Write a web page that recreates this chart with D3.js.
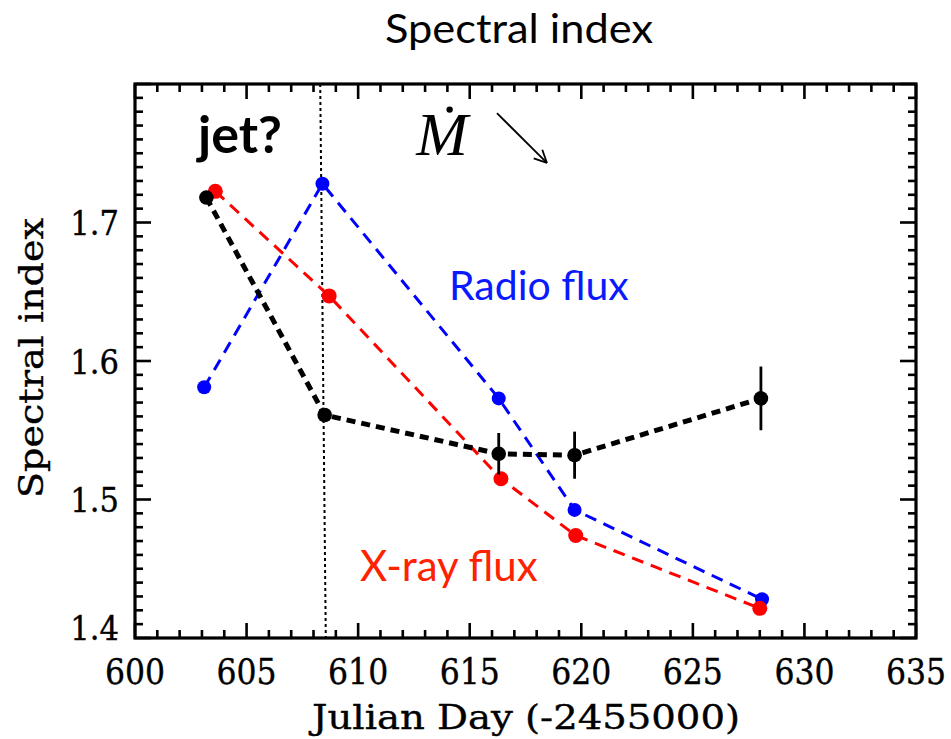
<!DOCTYPE html>
<html>
<head>
<meta charset="utf-8">
<script src="https://cdn.jsdelivr.net/npm/d3@7"></script>
<style>
  body { margin: 0; background: #fff; }
  .axis-text { font-family: "DejaVu Serif Condensed", "DejaVu Serif", serif; font-stretch: condensed; stroke: #000; stroke-width: 0.35px; }
  .sans { font-family: Lato, "Open Sans", sans-serif; }
</style>
</head>
<body>
<svg id="chart" width="951" height="739"></svg>
<script>
// Axis ranges and labelled ticks
const xDomain = [600, 635];
const yDomain = [1.4, 1.8];
const xTickLabels = [600, 605, 610, 615, 620, 625, 630, 635];
const yTickLabels = [1.4, 1.5, 1.6, 1.7];

// Spectral index (black, with errors)
const spectralDay   = [603.2, 608.5, 616.3, 619.7, 628.05];
const spectralIndex = [1.718, 1.561, 1.533, 1.532, 1.573];
const spectralError = [0.004, 0.004, 0.015, 0.017, 0.023];

// Radio flux (blue)
const radioDay   = [603.1, 608.4, 616.3, 619.7, 628.1];
const radioIndex = [1.581, 1.728, 1.573, 1.4925, 1.428];

// X-ray flux (red)
const xrayDay   = [603.6, 608.7, 616.4, 619.75, 628.0];
const xrayIndex = [1.7225, 1.647, 1.515, 1.474, 1.4214];

// Jet marker line: day at top and at bottom of the frame
const jetLineDay = [608.3, 608.55];

const svg = d3.select("#chart");
const plotLeft = 135, plotRight = 916, plotTop = 84, plotBottom = 638;

const x = d3.scaleLinear().domain(xDomain).range([plotLeft, plotRight]);
const y = d3.scaleLinear().domain(yDomain).range([plotBottom, plotTop]);

const zip = (xs, ys) => xs.map((d, i) => [d, ys[i]]);
const line = d3.line().x(d => x(d[0])).y(d => y(d[1]));

// Jet vertical dotted line
svg.append("line")
  .attr("x1", x(jetLineDay[0])).attr("y1", y(yDomain[1]))
  .attr("x2", x(jetLineDay[1])).attr("y2", y(yDomain[0]))
  .attr("stroke", "#000").attr("stroke-width", 2)
  .attr("stroke-dasharray", "3,3");

// Radio series
const radio = zip(radioDay, radioIndex);
svg.append("path").datum(radio).attr("d", line)
  .attr("fill", "none").attr("stroke", "#0000ff")
  .attr("stroke-width", 3).attr("stroke-dasharray", "12,8");
svg.selectAll(".radio").data(radio).join("circle")
  .attr("cx", d => x(d[0])).attr("cy", d => y(d[1])).attr("r", 7)
  .attr("fill", "#0000ff");

// X-ray series
const xray = zip(xrayDay, xrayIndex);
svg.append("path").datum(xray).attr("d", line)
  .attr("fill", "none").attr("stroke", "#ff0000")
  .attr("stroke-width", 3).attr("stroke-dasharray", "12,8");
svg.selectAll(".xray").data(xray).join("circle")
  .attr("cx", d => x(d[0])).attr("cy", d => y(d[1])).attr("r", 7.5)
  .attr("fill", "#ff0000");

// Spectral index series with error bars
const spec = zip(spectralDay, spectralIndex);
svg.append("path").datum(spec).attr("d", line)
  .attr("fill", "none").attr("stroke", "#000")
  .attr("stroke-width", 5).attr("stroke-dasharray", "9,6");
svg.selectAll(".err").data(spec).join("line")
  .attr("x1", d => x(d[0])).attr("x2", d => x(d[0]))
  .attr("y1", (d, i) => y(d[1] + spectralError[i]))
  .attr("y2", (d, i) => y(d[1] - spectralError[i]))
  .attr("stroke", "#000").attr("stroke-width", 2.8);
svg.selectAll(".spec").data(spec).join("circle")
  .attr("cx", d => x(d[0])).attr("cy", d => y(d[1])).attr("r", 7.3)
  .attr("fill", "#000");

// Frame with inward ticks on all four sides
const frame = svg.append("g");
const xMinor = d3.range(xDomain[0], xDomain[1] + 0.001, 1);
const yMinor = d3.range(0, 41).map(k => +(yDomain[0] + k * 0.01).toFixed(2));
const isMajorX = v => Math.abs(v % 5) < 1e-6;
const isMajorY = v => Math.abs(Math.round(v * 10) - v * 10) < 1e-6;

xMinor.forEach(v => {
  const len = isMajorX(v) ? 15 : 8;
  frame.append("line").attr("x1", x(v)).attr("x2", x(v))
    .attr("y1", plotBottom).attr("y2", plotBottom - len);
  frame.append("line").attr("x1", x(v)).attr("x2", x(v))
    .attr("y1", plotTop).attr("y2", plotTop + len);
});
yMinor.forEach(v => {
  const len = isMajorY(v) ? 16 : 8;
  frame.append("line").attr("x1", plotLeft).attr("x2", plotLeft + len)
    .attr("y1", y(v)).attr("y2", y(v));
  frame.append("line").attr("x1", plotRight).attr("x2", plotRight - len)
    .attr("y1", y(v)).attr("y2", y(v));
});
frame.selectAll("line").attr("stroke", "#000").attr("stroke-width", 2.6);
frame.append("rect").attr("x", plotLeft).attr("y", plotTop)
  .attr("width", plotRight - plotLeft).attr("height", plotBottom - plotTop)
  .attr("fill", "none").attr("stroke", "#000").attr("stroke-width", 3.2);

// Tick labels
svg.selectAll(".xt").data(xTickLabels).join("text")
  .attr("class", "axis-text")
  .attr("x", d => x(d)).attr("y", 684)
  .attr("text-anchor", "middle").attr("font-size", 35)
  .text(d => d);
svg.selectAll(".yt").data(yTickLabels).join("text")
  .attr("class", "axis-text")
  .attr("x", 119).attr("y", d => Math.min(y(d), plotBottom - 11) + 12.5)
  .attr("text-anchor", "end").attr("font-size", 34)
  .text(d => d.toFixed(1));

// Axis titles
svg.append("text").attr("class", "axis-text")
  .attr("x", 526).attr("y", 729).attr("text-anchor", "middle")
  .attr("font-size", 34)
  .attr("textLength", 428).attr("lengthAdjust", "spacingAndGlyphs")
  .text("Julian Day (-2455000)");
svg.append("text").attr("class", "axis-text")
  .attr("transform", "translate(43,358) rotate(-90)")
  .attr("text-anchor", "middle").attr("font-size", 34)
  .attr("textLength", 280).attr("lengthAdjust", "spacingAndGlyphs")
  .text("Spectral index");

// Title
svg.append("text").attr("class", "sans")
  .attr("x", 519).attr("y", 43).attr("text-anchor", "middle")
  .attr("font-size", 41)
  .attr("textLength", 268).attr("lengthAdjust", "spacingAndGlyphs")
  .text("Spectral index");

// Annotations placed in data coordinates
svg.append("text").attr("class", "sans")
  .attr("x", x(602.82)).attr("y", y(1.7502))
  .attr("font-size", 52).attr("font-weight", 700).text("jet?");
svg.append("text").attr("class", "sans")
  .attr("x", x(614.07)).attr("y", y(1.644))
  .attr("font-size", 41).attr("fill", "#0a1aff").text("Radio flux");
svg.append("text").attr("class", "sans")
  .attr("x", x(610.08)).attr("y", y(1.4408))
  .attr("font-size", 42).attr("fill", "#ff2200").text("X-ray flux");

// Accretion-rate symbol: italic M with a dot above
svg.append("text")
  .attr("x", x(612.6)).attr("y", y(1.7487))
  .attr("font-family", "Liberation Serif, serif").attr("font-style", "italic")
  .attr("font-size", 62).text("M");
svg.append("circle").attr("cx", x(614.1)).attr("cy", y(1.7815)).attr("r", 3.2)
  .attr("fill", "#000");

// Decreasing arrow
const a0 = [x(616.22), y(1.779)], a1 = [x(618.46), y(1.743)];
svg.append("line").attr("x1", a0[0]).attr("y1", a0[1])
  .attr("x2", a1[0]).attr("y2", a1[1])
  .attr("stroke", "#000").attr("stroke-width", 1.8);
const ang = Math.atan2(a1[1] - a0[1], a1[0] - a0[0]);
[-0.45, 0.45].forEach(o => {
  svg.append("line").attr("x1", a1[0]).attr("y1", a1[1])
    .attr("x2", a1[0] - 14 * Math.cos(ang + o))
    .attr("y2", a1[1] - 14 * Math.sin(ang + o))
    .attr("stroke", "#000").attr("stroke-width", 1.8);
});
</script>
</body>
</html>
